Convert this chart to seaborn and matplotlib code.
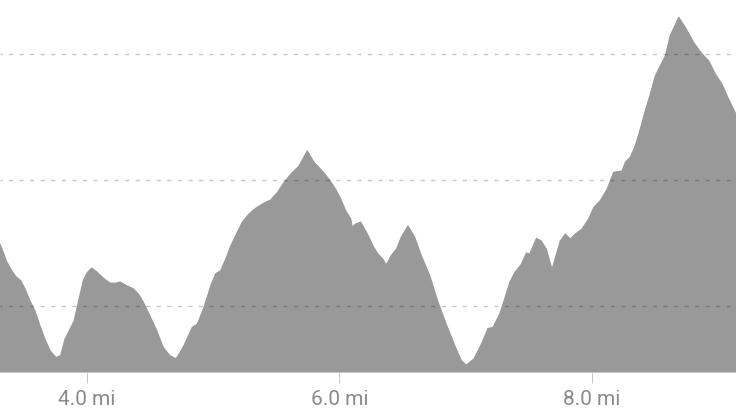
import matplotlib
matplotlib.use("Agg")
import matplotlib.pyplot as plt
import seaborn as sns
from matplotlib.ticker import FuncFormatter

# --- Perfil de elevación (distancia en millas, elevación en pies) ---
distance_mi = [
    3.314, 3.340, 3.367, 3.407, 3.441, 3.478, 3.512, 3.551, 3.591, 3.631,
    3.670, 3.710, 3.757, 3.794, 3.828, 3.868, 3.900, 3.934, 3.973, 4.005,
    4.040, 4.079, 4.132, 4.185, 4.232, 4.264, 4.317, 4.369, 4.409, 4.448,
    4.501, 4.554, 4.606, 4.659, 4.707, 4.739, 4.770, 4.836, 4.876, 4.929,
    4.982, 5.021, 5.061, 5.100, 5.140, 5.192, 5.232, 5.285, 5.338, 5.403,
    5.456, 5.509, 5.562, 5.615, 5.680, 5.746, 5.799, 5.865, 5.918, 5.971,
    6.010, 6.050, 6.090, 6.102, 6.129, 6.169, 6.227, 6.266, 6.306, 6.345,
    6.371, 6.411, 6.451, 6.490, 6.543, 6.596, 6.648, 6.715, 6.781, 6.846,
    6.913, 6.965, 7.005, 7.066, 7.123, 7.176, 7.216, 7.269, 7.308, 7.348,
    7.388, 7.440, 7.480, 7.506, 7.559, 7.598, 7.638, 7.683, 7.722, 7.748,
    7.788, 7.828, 7.867, 7.920, 7.973, 8.013, 8.065, 8.118, 8.171, 8.237,
    8.263, 8.303, 8.342, 8.382, 8.421, 8.461, 8.500, 8.540, 8.580, 8.619,
    8.686, 8.738, 8.804, 8.870, 8.923, 8.975, 9.028, 9.081, 9.139,
]
elevation_ft = [
    698, 685, 670, 656, 646, 640, 627, 608, 592, 568,
    547, 529, 518, 521, 547, 563, 576, 606, 640, 653,
    660, 654, 644, 636, 636, 638, 632, 627, 619, 606,
    584, 561, 534, 521, 516, 526, 537, 566, 571, 598,
    632, 651, 656, 674, 695, 717, 733, 746, 755, 763,
    768, 780, 796, 809, 822, 846, 828, 814, 801, 785,
    770, 751, 738, 725, 730, 733, 712, 695, 682, 674,
    665, 680, 690, 709, 727, 709, 680, 648, 606, 571,
    537, 513, 506, 516, 539, 564, 566, 587, 611, 637,
    653, 666, 684, 682, 707, 703, 690, 658, 685, 703,
    714, 706, 714, 722, 738, 756, 767, 785, 812, 814,
    828, 836, 854, 881, 910, 936, 965, 981, 997, 1029,
    1058, 1042, 1018, 1000, 989, 968, 952, 928, 904,
]
x_ticks = [4.0, 6.0, 8.0]
grid_levels = [600, 800, 1000]

BASE_FT = 495
TOP_FT = 1087
FILL = "#999999"

sns.set_theme(style="white")
plt.rcParams["font.family"] = ["Roboto", "DejaVu Sans"]
plt.rcParams["lines.scale_dashes"] = False

fig = plt.figure(figsize=(7.36, 4.14), dpi=100)
ax = fig.add_axes([0, 41 / 414, 1, 373 / 414])

# Área del perfil
sns.lineplot(x=distance_mi, y=elevation_ft, ax=ax, color=FILL, lw=0.8, zorder=2)
ax.fill_between(distance_mi, elevation_ft, BASE_FT, color=FILL, lw=0, zorder=1)

ax.set_xlim(distance_mi[0], distance_mi[-1])
ax.set_ylim(BASE_FT, TOP_FT)

# Rejilla horizontal punteada por encima del área (negro semitransparente)
ax.set_yticks(grid_levels)
ax.set_axisbelow(False)
ax.yaxis.grid(True, color="black", alpha=0.22, lw=1.0, linestyle=(1.5, (3.0, 4.6)), zorder=3)
ax.xaxis.grid(False)
ax.tick_params(axis="y", left=False, labelleft=False)

ax.set_xticks(x_ticks)
ax.xaxis.set_major_formatter(FuncFormatter(lambda v, p: f"{v:.1f} mi"))
ax.tick_params(axis="x", bottom=True, direction="out", length=8, width=0.75,
               color="#c8c8c8", pad=4.5, labelsize=15, labelcolor="#8a8a8a")

for side in ["top", "left", "right"]:
    ax.spines[side].set_visible(False)
ax.spines["bottom"].set_color("#c8c8c8")
ax.spines["bottom"].set_linewidth(0.75)

ax.set_xlabel("")
ax.set_ylabel("")

fig.savefig("out.png", dpi=100)
plt.close(fig)
